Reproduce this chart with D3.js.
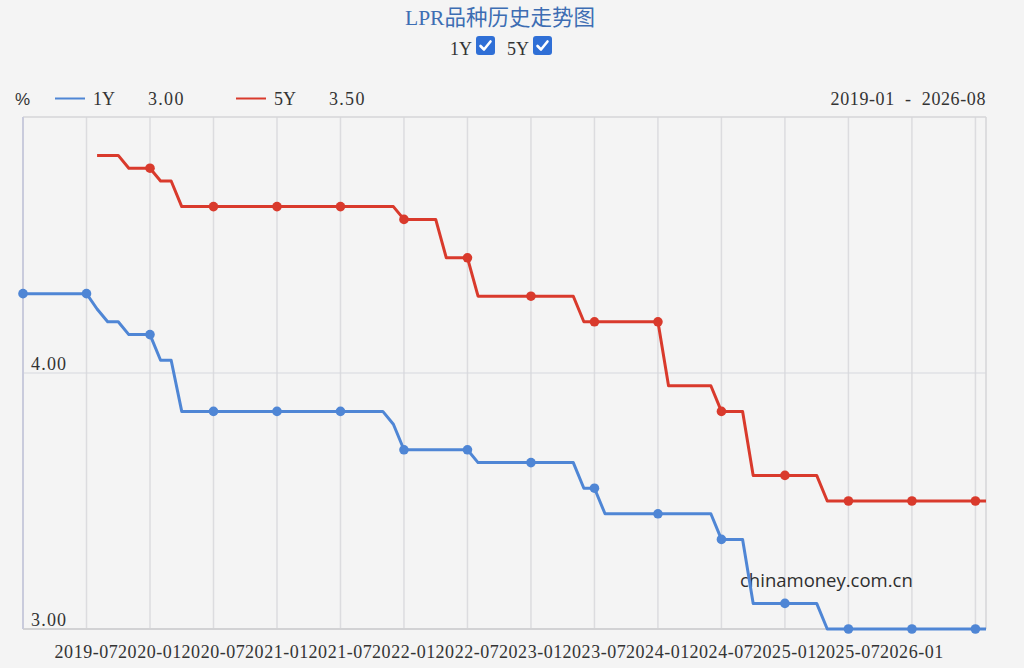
<!DOCTYPE html>
<html>
<head>
<meta charset="utf-8">
<script src="https://cdn.jsdelivr.net/npm/d3@7"></script>
<style>
  html, body { margin: 0; padding: 0; background: #f4f4f4; }
  svg { display: block; }
  text { font-family: "Liberation Serif", "Noto Sans CJK SC", serif; fill: #333; }
</style>
</head>
<body>
<div id="chart"></div>
<script>
// ------------------------------------------------------------
// Data (monthly, 2019-01 .. 2026-08)
// ------------------------------------------------------------
const startMonth = "2019-01"
const endMonth = "2026-08"

const lpr1Y = [
    4.31, 4.31, 4.31, 4.31, 4.31, 4.31, 4.31, 4.25, 4.20, 4.20, 4.15, 4.15, // 2019
    4.15, 4.05, 4.05, 3.85, 3.85, 3.85, 3.85, 3.85, 3.85, 3.85, 3.85, 3.85, // 2020
    3.85, 3.85, 3.85, 3.85, 3.85, 3.85, 3.85, 3.85, 3.85, 3.85, 3.85, 3.80, // 2021
    3.70, 3.70, 3.70, 3.70, 3.70, 3.70, 3.70, 3.65, 3.65, 3.65, 3.65, 3.65, // 2022
    3.65, 3.65, 3.65, 3.65, 3.65, 3.55, 3.55, 3.45, 3.45, 3.45, 3.45, 3.45, // 2023
    3.45, 3.45, 3.45, 3.45, 3.45, 3.45, 3.35, 3.35, 3.35, 3.10, 3.10, 3.10, // 2024
    3.10, 3.10, 3.10, 3.10, 3.00, 3.00, 3.00, 3.00, 3.00, 3.00, 3.00, 3.00, // 2025
    3.00, 3.00, 3.00, 3.00, 3.00, 3.00, 3.00, 3.00                          // 2026
]

const lpr5Y = [
    null, null, null, null, null, null, null, 4.85, 4.85, 4.85, 4.80, 4.80, // 2019
    4.80, 4.75, 4.75, 4.65, 4.65, 4.65, 4.65, 4.65, 4.65, 4.65, 4.65, 4.65, // 2020
    4.65, 4.65, 4.65, 4.65, 4.65, 4.65, 4.65, 4.65, 4.65, 4.65, 4.65, 4.65, // 2021
    4.60, 4.60, 4.60, 4.60, 4.45, 4.45, 4.45, 4.30, 4.30, 4.30, 4.30, 4.30, // 2022
    4.30, 4.30, 4.30, 4.30, 4.30, 4.20, 4.20, 4.20, 4.20, 4.20, 4.20, 4.20, // 2023
    4.20, 3.95, 3.95, 3.95, 3.95, 3.95, 3.85, 3.85, 3.85, 3.60, 3.60, 3.60, // 2024
    3.60, 3.60, 3.60, 3.60, 3.50, 3.50, 3.50, 3.50, 3.50, 3.50, 3.50, 3.50, // 2025
    3.50, 3.50, 3.50, 3.50, 3.50, 3.50, 3.50, 3.50                          // 2026
]

const xTickLabels = ["2019-07", "2020-01", "2020-07", "2021-01", "2021-07", "2022-01", "2022-07",
    "2023-01", "2023-07", "2024-01", "2024-07", "2025-01", "2025-07", "2026-01", "2026-07"]
const yTickValues = [3.00, 4.00]
const latest1Y = "3.00"
const latest5Y = "3.50"

// ------------------------------------------------------------
// Layout
// ------------------------------------------------------------
const W = 1024, H = 668
const plot = { left: 23, right: 986, top: 117, bottom: 629 }
const c1Y = "#4f86d5"
const c5Y = "#d93a2c"

const parseMonth = d3.timeParse("%Y-%m")
const months = d3.timeMonth.range(parseMonth(startMonth), d3.timeMonth.offset(parseMonth(endMonth), 1))
const monthIndex = months.map((d, i) => i)
const labelIndex = xTickLabels.map(l => months.findIndex(m => d3.timeFormat("%Y-%m")(m) === l))

const x = d3.scaleLinear()
    .domain([0, months.length - 1])
    .range([plot.left, plot.right])

const y = d3.scaleLinear()
    .domain([3, 5])
    .range([plot.bottom, plot.top])

const svg = d3.select("#chart")
    .append("svg")
    .attr("width", W)
    .attr("height", H)

// Title + checkboxes
svg.append("text")
    .attr("x", 500).attr("y", 25)
    .attr("text-anchor", "middle")
    .attr("font-size", "21.5px")
    .style("fill", "#3d6db3")
    .text("LPR品种历史走势图")

function checkbox(label, lx, bx) {
    svg.append("text")
        .attr("x", lx).attr("y", 55)
        .attr("font-size", "18px")
        .text(label)
    svg.append("rect")
        .attr("x", bx).attr("y", 36)
        .attr("width", 19).attr("height", 19)
        .attr("rx", 3)
        .attr("fill", "#2f6fd6")
    svg.append("path")
        .attr("d", `M${bx + 4.5},${36 + 10} L${bx + 8},${36 + 13.5} L${bx + 14.5},${36 + 5.5}`)
        .attr("fill", "none")
        .attr("stroke", "#fff")
        .attr("stroke-width", 2.6)
        .attr("stroke-linecap", "round")
        .attr("stroke-linejoin", "round")
}
checkbox("1Y", 450, 476)
checkbox("5Y", 507, 533)

// Legend row
svg.append("text")
    .attr("x", 15).attr("y", 105)
    .attr("font-size", "17px")
    .style("font-family", "'Liberation Sans', sans-serif")
    .text("%")

const legendItems = [
    { name: "1Y", val: latest1Y, color: c1Y, x0: 55 },
    { name: "5Y", val: latest5Y, color: c5Y, x0: 236 }
]
legendItems.forEach(it => {
    svg.append("line")
        .attr("x1", it.x0).attr("x2", it.x0 + 30)
        .attr("y1", 98.5).attr("y2", 98.5)
        .attr("stroke", it.color).attr("stroke-width", 2)
    svg.append("text")
        .attr("x", it.x0 + 38).attr("y", 105)
        .attr("font-size", "18px")
        .text(it.name)
    svg.append("text")
        .attr("x", it.x0 + 93).attr("y", 105)
        .attr("font-size", "18px")
        .attr("letter-spacing", "1.3px")
        .text(it.val)
})

svg.append("text")
    .attr("x", plot.right).attr("y", 105)
    .attr("text-anchor", "end")
    .attr("font-size", "18px")
    .attr("letter-spacing", "0.6px")
    .attr("xml:space", "preserve")
    .text(startMonth + "  -  " + endMonth)

// ------------------------------------------------------------
// Grid + frame
// ------------------------------------------------------------
svg.append("g")
    .selectAll("line")
    .data(labelIndex)
    .enter()
    .append("line")
    .attr("x1", d => x(d)).attr("x2", d => x(d))
    .attr("y1", plot.top).attr("y2", plot.bottom)
    .attr("stroke", "#dcdcdf")
    .attr("stroke-width", 1.5)

svg.append("g")
    .selectAll("line")
    .data(yTickValues)
    .enter()
    .append("line")
    .attr("x1", plot.left).attr("x2", plot.right)
    .attr("y1", d => y(d)).attr("y2", d => y(d))
    .attr("stroke", d => d === 3 ? "#d2d2d4" : "#d6d7de")
    .attr("stroke-width", d => d === 3 ? 2 : 1.2)

// top + right border
svg.append("line")
    .attr("x1", plot.left).attr("x2", plot.right)
    .attr("y1", plot.top).attr("y2", plot.top)
    .attr("stroke", "#d6d6d8").attr("stroke-width", 1.5)
svg.append("line")
    .attr("x1", plot.right).attr("x2", plot.right)
    .attr("y1", plot.top).attr("y2", plot.bottom)
    .attr("stroke", "#d6d6d8").attr("stroke-width", 1.5)
// left axis
svg.append("line")
    .attr("x1", plot.left).attr("x2", plot.left)
    .attr("y1", plot.top).attr("y2", plot.bottom)
    .attr("stroke", "#c9cbdc").attr("stroke-width", 2)

// y labels inside plot
svg.append("g")
    .selectAll("text")
    .data(yTickValues)
    .enter()
    .append("text")
    .attr("x", 31)
    .attr("y", d => y(d) - 3)
    .attr("font-size", "18px")
    .attr("letter-spacing", "1.2px")
    .text(d => d3.format(".2f")(d))

// x labels (last one does not fit)
svg.append("g")
    .selectAll("text")
    .data(labelIndex.slice(0, -1))
    .enter()
    .append("text")
    .attr("x", d => x(d))
    .attr("y", 658)
    .attr("text-anchor", "middle")
    .attr("font-size", "18px")
    .attr("letter-spacing", "0.55px")
    .text((d, i) => xTickLabels[i])

// watermark
svg.append("text")
    .attr("x", 740).attr("y", 587)
    .attr("font-size", "18.5px")
    .style("font-family", "'Open Sans', 'Noto Sans', sans-serif")
    .style("fill", "#2e2e2e")
    .text("chinamoney.com.cn")

// ------------------------------------------------------------
// Series
// ------------------------------------------------------------
function drawSeries(values, color) {
    const line = d3.line()
        .defined(i => values[i] !== null)
        .x(i => x(i))
        .y(i => y(values[i]))

    svg.append("path")
        .datum(monthIndex)
        .attr("d", line)
        .attr("fill", "none")
        .attr("stroke", color)
        .attr("stroke-width", 3)
        .attr("stroke-linejoin", "round")

    svg.append("g")
        .selectAll("circle")
        .data(monthIndex.filter(i => i % 6 === 0 && values[i] !== null))
        .enter()
        .append("circle")
        .attr("cx", i => x(i))
        .attr("cy", i => y(values[i]))
        .attr("r", 4.8)
        .attr("fill", color)
}

drawSeries(lpr1Y, c1Y)
drawSeries(lpr5Y, c5Y)
</script>
</body>
</html>
